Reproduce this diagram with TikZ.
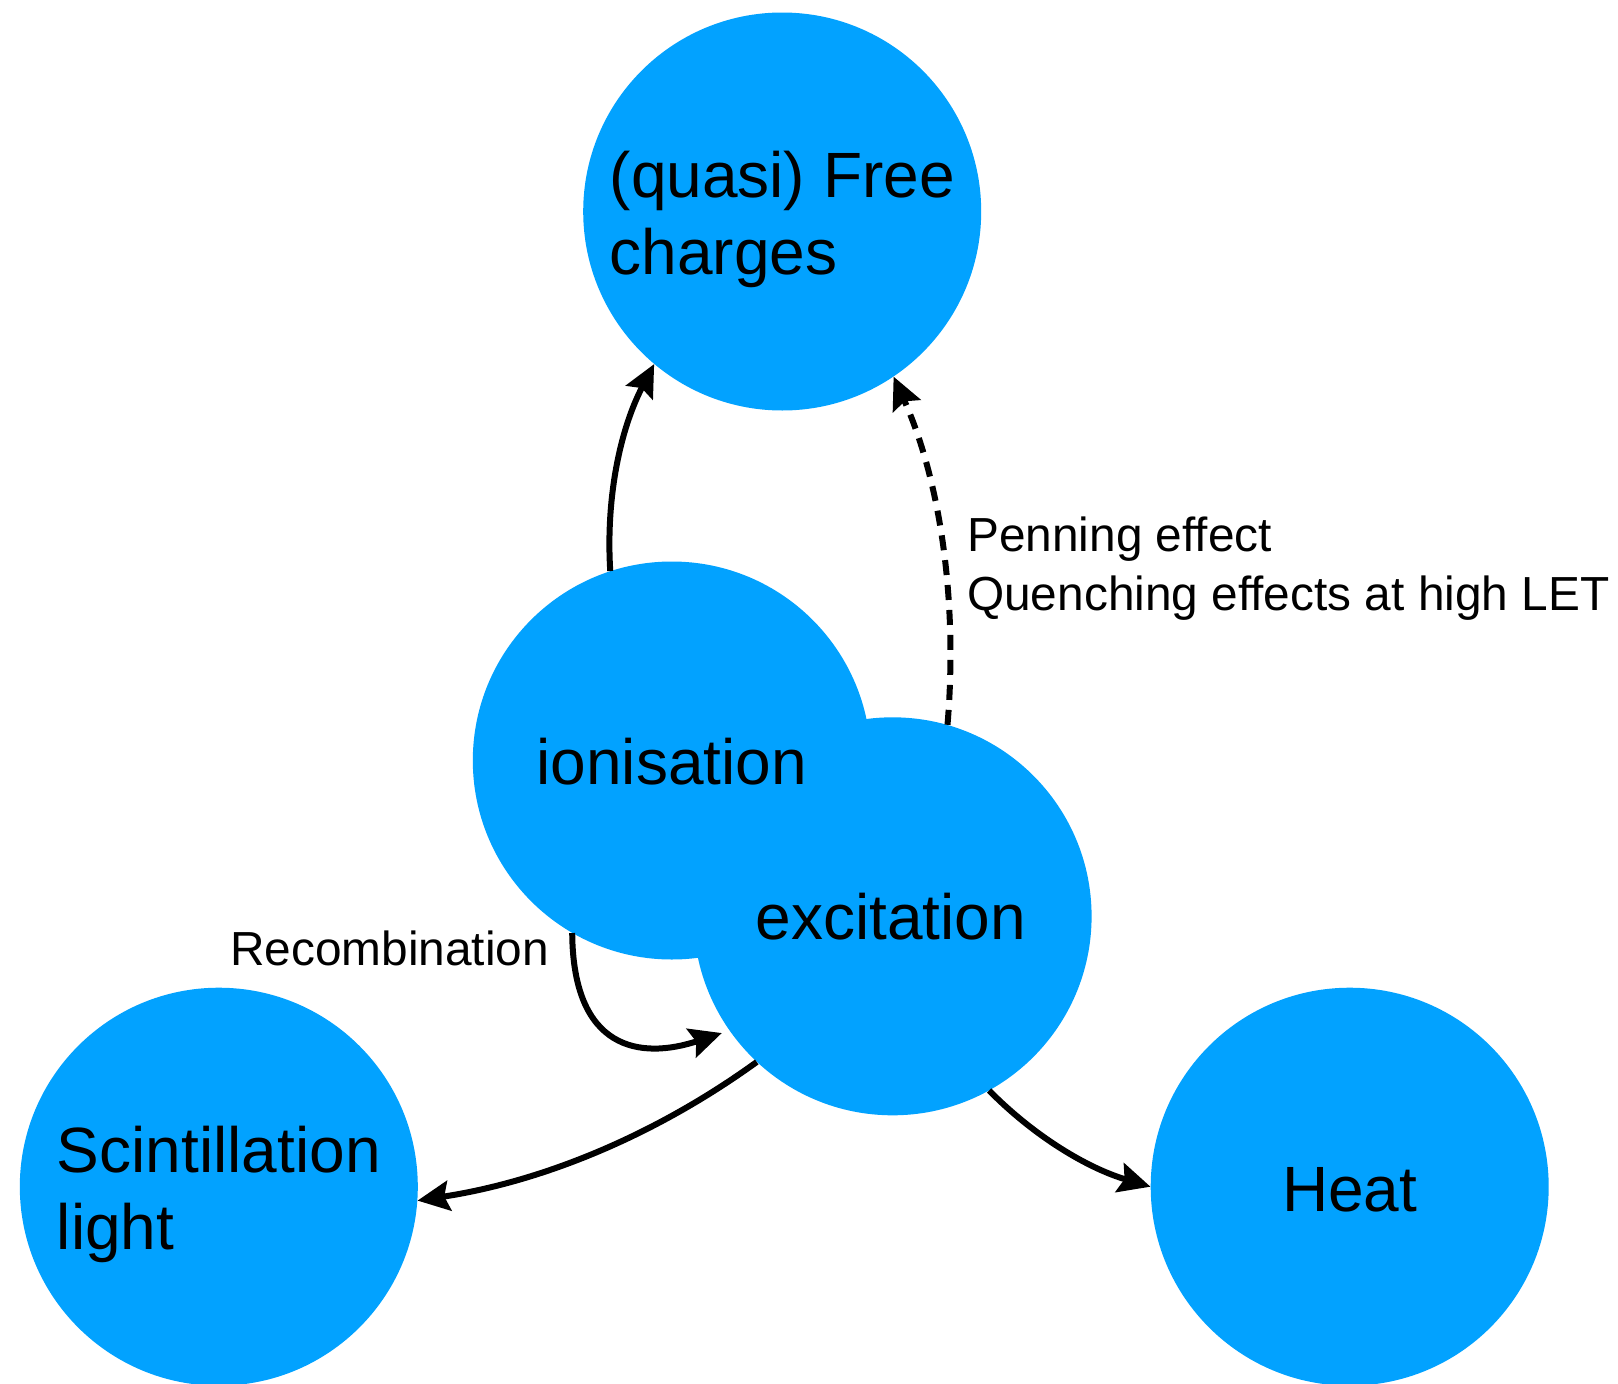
\documentclass[tikz,border=0pt]{standalone}
\usepackage{fontspec}
\setmainfont{Liberation Sans}
\usetikzlibrary{arrows.meta}
\definecolor{bubble}{RGB}{2,162,255}
\tikzset{
  bubblenode/.style={circle, fill=bubble, draw=none, minimum size=398pt, inner sep=0pt},
  bubbletext/.style={inner sep=0pt, align=left, font=\fontsize{64}{77}\selectfont},
  conn/.style={line width=6pt, -{Stealth[length=32pt,width=30pt,inset=5pt]}},
  dashconn/.style={conn, dash pattern=on 15pt off 10pt},
  lbl/.style={inner sep=0pt, align=left, font=\fontsize{47.8}{59}\selectfont}
}
\begin{document}
\begin{tikzpicture}[x=1pt,y=-1pt]
\useasboundingbox (0,0) rectangle (1618,1384);
\node[bubblenode] (free) at (782.2,211.5) {};
\node[bubblenode] (ion) at (671.8,760.5) {};
\node[bubblenode] (exc) at (892.6,916.3) {};
\node[bubblenode] (scint) at (218.8,1186.7) {};
\node[bubblenode] (heat) at (1349.7,1186.7) {};

\node[bubbletext] (freetext) at (782.2,219.5) {(quasi) Free\\charges};
\node[bubbletext] (iontext) at (671.8,761.5) {ionisation};
\node[bubbletext] (exctext) at (890.6,916.3) {excitation};
\node[bubbletext] (scinttext) at (218.8,1194.7) {Scintillation\\light};
\node[bubbletext] (heattext) at (1349.7,1189.7) {Heat};

\draw[conn] (ion.108) .. controls (605.7,497.8) and (620.1,429.4) .. (free.230);
\draw[dashconn] (exc.74) .. controls (958,600) and (940,480) .. (free.304);
\draw[conn, shorten >=8pt] (ion.240) .. controls (573,1050) and (640,1060) .. (exc.215);
\draw[conn] (exc.227) .. controls (654.3,1136) and (542.3,1181.5) .. (scint.356);
\draw[conn] (exc.299) .. controls (1034.7,1136.8) and (1088.2,1168.4) .. (heat.180);

\node[lbl, anchor=base west] (penning) at (967,610.7) {Penning effect\\Quenching effects at high LET};
\node[lbl, anchor=base west] (recomb) at (230,965) {Recombination};
\end{tikzpicture}
\end{document}
